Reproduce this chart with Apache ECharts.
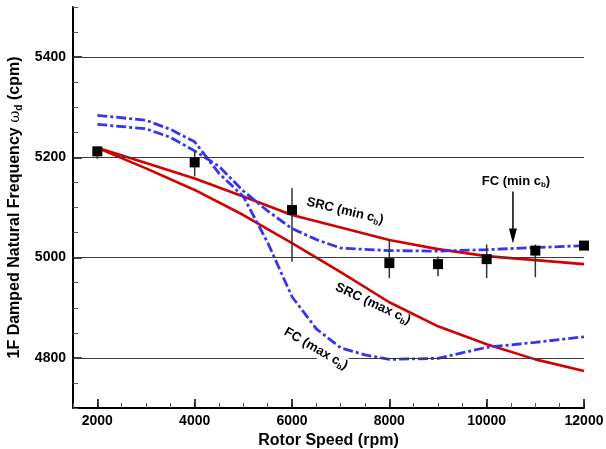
<!DOCTYPE html>
<html>
<head>
<meta charset="utf-8">
<script src="https://cdn.jsdelivr.net/npm/echarts@6/dist/echarts.min.js"></script>
<style>
  html, body { margin: 0; padding: 0; background: #fff; }
  #chart { width: 606px; height: 449px; }
</style>
</head>
<body>
<div id="chart"></div>
<script>
// ---- Data ----
const xMajorTicks = [2000, 4000, 6000, 8000, 10000, 12000];
const yMajorTicks = [4800, 5000, 5200, 5400];

// Measured points with error bars
const measSpeed = [2000, 4000, 6000, 8000, 9000, 10000, 11000, 12000];
const measFreq  = [5212, 5190, 5095, 4989, 4987, 4997, 5014, 5024];
const measLow   = [5197, 5162, 4992, 4959, 4963, 4959, 4961, 5020];
const measHigh  = [5218, 5212, 5139, 5035, 5002, 5026, 5026, 5028];

// SRC predictions
const srcSpeed   = [2000, 3000, 4000, 5000, 6000, 7000, 8000, 9000, 10000, 11000, 12000];
const srcMinFreq = [5219, 5189, 5158, 5122, 5085, 5060, 5035, 5017, 5003, 4995, 4987];
const srcMaxFreq = [5219, 5178, 5135, 5085, 5029, 4971, 4911, 4863, 4827, 4797, 4774];

// FC predictions
const fcMinSpeed = [2000, 3000, 3500, 4000, 4500, 5000, 5500, 6000, 6500, 7000, 8000, 9000, 10000, 11000, 12000];
const fcMinFreq  = [5266, 5257, 5240, 5213, 5182, 5133, 5093, 5058, 5036, 5019, 5014, 5013, 5016, 5020, 5024];
const fcMaxSpeed = [2000, 3000, 3500, 4000, 4500, 5000, 5500, 6000, 6500, 7000, 7500, 8000, 9000, 10000, 11000, 12000];
const fcMaxFreq  = [5284, 5274, 5256, 5231, 5168, 5122, 5030, 4922, 4858, 4820, 4806, 4797, 4799, 4821, 4831, 4842];

// ---- Styles ----
const RED = '#d40000';
const BLUE = '#3434f2';
const FONT = 'Liberation Sans';

const pairs = (xs, ys) => xs.map((x, i) => [x, ys[i]]);
const plain = v => String(Math.round(v));

const option = {
  animation: false,
  backgroundColor: '#fff',
  grid: { left: 73, right: 22, top: 7, bottom: 41, containLabel: false, outerBoundsMode: 'none' },
  xAxis: [
    {
      type: 'value', min: 1500, max: 12000, interval: 500,
      axisLine: { show: true, onZero: false, lineStyle: { color: '#000', width: 2 } },
      axisTick: { show: true, inside: true, length: 5, lineStyle: { color: '#555', width: 1 } },
      axisLabel: { show: false },
      splitLine: { show: false }
    },
    {
      type: 'value', min: 1500, max: 12000, interval: 500, position: 'bottom', offset: 0,
      axisLine: { show: false, onZero: false },
      axisTick: { show: true, inside: true, length: 9, customValues: xMajorTicks, lineStyle: { color: '#000', width: 1.5 } },
      axisLabel: { show: true, customValues: xMajorTicks, formatter: plain, margin: 6, color: '#000', fontFamily: FONT, fontWeight: 'bold', fontSize: 14,
                   showMinLabel: true, showMaxLabel: true },
      splitLine: { show: false },
      name: 'Rotor Speed (rpm)', nameLocation: 'middle', nameGap: 19,
      nameTextStyle: { color: '#000', fontFamily: FONT, fontWeight: 'bold', fontSize: 16 }
    }
  ],
  yAxis: [
    {
      type: 'value', min: 4700, max: 5500, interval: 50,
      axisLine: { show: true, onZero: false, lineStyle: { color: '#000', width: 2 } },
      axisTick: { show: true, inside: true, length: 5, lineStyle: { color: '#555', width: 1 } },
      axisLabel: { show: false },
      splitLine: { show: false }
    },
    {
      type: 'value', min: 4700, max: 5500, interval: 100, position: 'left', offset: 0,
      axisLine: { show: false, onZero: false },
      axisTick: { show: true, inside: true, length: 9, customValues: yMajorTicks, lineStyle: { color: '#000', width: 1.5 } },
      axisLabel: { show: true, customValues: yMajorTicks, formatter: plain, margin: 7, color: '#000', fontFamily: FONT, fontWeight: 'bold', fontSize: 14 },
      splitLine: { show: false },
      name: '1F Damped Natural Frequency {w|ω}{s|d} (cpm)',
      nameLocation: 'middle', nameGap: 48,
      nameTextStyle: {
        color: '#000', fontFamily: FONT, fontWeight: 'bold', fontSize: 16, lineHeight: 18,
        rich: {
          w: { fontFamily: 'DejaVu Serif', fontWeight: 'normal', fontSize: 15, lineHeight: 18, color: '#000' },
          s: { fontFamily: FONT, fontWeight: 'bold', fontSize: 10, lineHeight: 10, verticalAlign: 'bottom', color: '#000' }
        }
      }
    }
  ],
  series: [
    {
      name: 'grid', type: 'line', data: [], xAxisIndex: 0, yAxisIndex: 0, z: 1,
      markLine: {
        silent: true, symbol: ['none', 'none'], animation: false,
        label: { show: false },
        lineStyle: { color: '#3a3a3a', width: 1, type: 'solid' },
        emphasis: { disabled: true },
        data: yMajorTicks.map(v => ({ yAxis: v }))
      }
    },
    {
      name: 'SRC (min cb)', type: 'line', data: pairs(srcSpeed, srcMinFreq), showSymbol: false, symbol: 'none',
      lineStyle: { color: RED, width: 2.6 }, z: 3
    },
    {
      name: 'SRC (max cb)', type: 'line', data: pairs(srcSpeed, srcMaxFreq), showSymbol: false, symbol: 'none',
      lineStyle: { color: RED, width: 2.6 }, z: 3
    },
    {
      name: 'FC (min cb)', type: 'line', data: pairs(fcMinSpeed, fcMinFreq), showSymbol: false, symbol: 'none',
      lineStyle: { color: BLUE, width: 2.8, type: [10, 3, 3, 3] }, z: 4
    },
    {
      name: 'FC (max cb)', type: 'line', data: pairs(fcMaxSpeed, fcMaxFreq), showSymbol: false, symbol: 'none',
      lineStyle: { color: BLUE, width: 2.8, type: [10, 3, 3, 3] }, z: 4
    },
    {
      name: 'error', type: 'custom', z: 5,
      data: measSpeed.map((s, i) => [s, measLow[i], measHigh[i]]),
      encode: { x: 0, y: [1, 2] },
      renderItem: function (params, api) {
        const x = api.value(0);
        const lo = api.coord([x, api.value(1)]);
        const hi = api.coord([x, api.value(2)]);
        return {
          type: 'line',
          shape: { x1: lo[0], y1: lo[1], x2: hi[0], y2: hi[1] },
          style: { stroke: '#333', lineWidth: 1.5 }
        };
      }
    },
    {
      name: 'Measured', type: 'scatter', data: pairs(measSpeed, measFreq),
      symbol: 'rect', symbolSize: 10, itemStyle: { color: '#000', opacity: 1 }, z: 6
    }
  ]
};

const chart = echarts.init(document.getElementById('chart'), null, { renderer: 'canvas' });
chart.setOption(option);

// ---- Annotations, positioned through the chart's own scales ----
const annotations = [
  { main: 'SRC (min c', sub: 'b', at: [7089, 5093], angleDeg: 13.5, bg: false },
  { main: 'SRC (max c', sub: 'b', at: [7664, 4908], angleDeg: 25, bg: false },
  { main: 'FC (max c', sub: 'b', at: [6493, 4818], angleDeg: 30, bg: true },
  { main: 'FC (min c', sub: 'b', at: [10602, 5153], angleDeg: 0, bg: false }
];
const arrowFrom = [10540, 5132];
const arrowTo = [10540, 5028];

const toPx = p => chart.convertToPixel({ xAxisIndex: 0, yAxisIndex: 0 }, p);
const graphics = annotations.map(a => {
  const p = toPx(a.at);
  return {
    type: 'text', x: p[0], y: p[1], rotation: -a.angleDeg * Math.PI / 180, z: 100,
    style: {
      text: '{n|' + a.main + '}{s|' + a.sub + '}{n|)}',
      align: 'center', verticalAlign: 'middle',
      backgroundColor: a.bg ? '#fff' : 'transparent',
      padding: a.bg ? [0, 1, 0, 1] : 0,
      rich: {
        n: { fontFamily: FONT, fontWeight: 'bold', fontSize: 13, lineHeight: 16, fill: '#000' },
        s: { fontFamily: FONT, fontWeight: 'bold', fontSize: 8, lineHeight: 8, verticalAlign: 'bottom', fill: '#000' }
      }
    }
  };
});
const a0 = toPx(arrowFrom), a1 = toPx(arrowTo);
graphics.push({
  type: 'line', z: 100,
  shape: { x1: a0[0], y1: a0[1], x2: a1[0], y2: a1[1] - 13 },
  style: { stroke: '#000', lineWidth: 1.5 }
});
graphics.push({
  type: 'polygon', z: 100,
  shape: { points: [[a1[0] - 4, a1[1] - 15], [a1[0] + 4, a1[1] - 15], [a1[0], a1[1]]] },
  style: { fill: '#000' }
});
chart.setOption({ graphic: graphics });
</script>
</body>
</html>
